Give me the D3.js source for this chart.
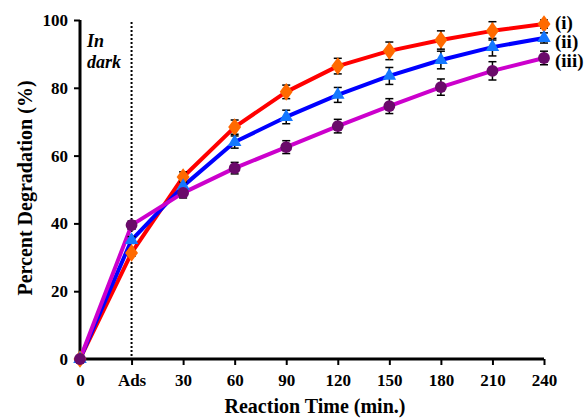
<!DOCTYPE html>
<html>
<head>
<meta charset="utf-8">
<script src="https://cdn.jsdelivr.net/npm/d3@7"></script>
<style>
  body { margin: 0; background: #fff; }
</style>
</head>
<body>
<svg id="chart" width="585" height="418"></svg>
<script>
// categories on the x axis
var categories = ["0", "Ads", "30", "60", "90", "120", "150", "180", "210", "240"];
var yTicks = [0, 20, 40, 60, 80, 100];

// series values (percent degradation) and their error bars
var seriesI   = [0, 31.3, 53.7, 68.4, 78.8, 86.4, 90.9, 94.1, 96.8, 98.8];
var errI      = [0, 1.0, 1.5, 2.1, 2.0, 2.3, 2.6, 2.7, 2.7, 1.2];
var seriesII  = [0, 35.1, 51.0, 64.0, 71.4, 77.9, 83.5, 88.2, 92.0, 94.7];
var errII     = [0, 1.0, 1.5, 1.8, 2.0, 2.2, 2.5, 2.6, 2.6, 1.5];
var seriesIII = [0, 39.5, 49.0, 56.3, 62.5, 68.7, 74.6, 80.2, 85.0, 88.8];
var errIII    = [0, 1.2, 1.5, 1.7, 1.9, 2.0, 2.2, 2.4, 2.7, 2.0];
var labels    = ["(i)", "(ii)", "(iii)"];

var series = [
  { name: labels[0], values: seriesI, err: errI, line: "#ff0000", mark: "#ff6a00", shape: d3.symbolDiamond, size: 110 },
  { name: labels[1], values: seriesII, err: errII, line: "#0000ff", mark: "#1478ff", shape: d3.symbolTriangle, size: 80 },
  { name: labels[2], values: seriesIII, err: errIII, line: "#cc00cc", mark: "#6a0a6a", shape: d3.symbolCircle, size: 110 }
];

const FONT = "Liberation Serif";
const svg = d3.select("#chart");

var x = d3.scalePoint().domain(categories).range([80, 544]);
var y = d3.scaleLinear().domain([0, 100]).range([359, 20]);

// y axis
var yAxis = svg.append("g")
    .attr("transform", "translate(80,0)")
    .call(d3.axisLeft(y).tickValues(yTicks).tickSize(6).tickPadding(6));
yAxis.select(".domain").attr("stroke-width", 3).attr("d", "M0,20V359");
yAxis.selectAll(".tick line").attr("stroke-width", 2);
yAxis.selectAll(".tick text").attr("fill", "#000").attr("font-size", 17);

// x axis
var xAxis = svg.append("g")
    .attr("transform", "translate(0,359)")
    .call(d3.axisBottom(x).tickSize(6).tickPadding(9));
xAxis.select(".domain").attr("stroke-width", 3).attr("d", "M80,0H544");
xAxis.selectAll(".tick line").attr("stroke-width", 2);
xAxis.selectAll(".tick text").attr("fill", "#000").attr("font-size", 17);

// dark / light boundary
svg.append("line")
    .attr("x1", x("Ads")).attr("x2", x("Ads"))
    .attr("y1", 22).attr("y2", 359)
    .attr("stroke", "#000").attr("stroke-width", 2)
    .attr("stroke-dasharray", "2,2");

svg.append("text").attr("x", 87).attr("y", 47)
    .attr("font-size", 18).attr("font-style", "italic").text("In");
svg.append("text").attr("x", 87).attr("y", 68)
    .attr("font-size", 18).attr("font-style", "italic").text("dark");

// lines
var line = d3.line().x((d, i) => x(categories[i])).y(d => y(d));
series.forEach(s => {
  svg.append("path")
      .datum(s.values)
      .attr("fill", "none")
      .attr("stroke", s.line)
      .attr("stroke-width", 4)
      .attr("stroke-linejoin", "round")
      .attr("d", line);
});

// error bars (under the markers)
series.forEach(s => {
  var g = svg.append("g").attr("stroke", "#000").attr("stroke-width", 1.5);
  s.values.forEach((v, i) => {
    var e = s.err[i];
    if (!e) return;
    var cx = x(categories[i]);
    g.append("line").attr("x1", cx).attr("x2", cx).attr("y1", y(v + e)).attr("y2", y(v - e));
    g.append("line").attr("x1", cx - 4).attr("x2", cx + 4).attr("y1", y(v + e)).attr("y2", y(v + e));
    g.append("line").attr("x1", cx - 4).attr("x2", cx + 4).attr("y1", y(v - e)).attr("y2", y(v - e));
  });
});

// markers
series.forEach(s => {
  svg.append("g").selectAll("path")
    .data(s.values)
    .enter()
    .append("path")
    .attr("transform", (d, i) => `translate(${x(categories[i])},${y(d)})` + (s.shape === d3.symbolDiamond ? " scale(1.15,0.9)" : ""))
    .attr("d", d3.symbol().type(s.shape).size(s.size))
    .attr("fill", s.mark);
});

// series labels
var labelY = [29, 48, 67];
series.forEach((s, i) => {
  svg.append("text").attr("x", 555).attr("y", labelY[i])
      .attr("font-size", 19).text(s.name);
});

// axis titles
svg.append("text")
    .attr("x", 315).attr("y", 413)
    .attr("text-anchor", "middle")
    .attr("font-size", 20)
    .text("Reaction Time (min.)");

svg.append("text")
    .attr("transform", "translate(32,188) rotate(-90)")
    .attr("text-anchor", "middle")
    .attr("font-size", 20)
    .text("Percent Degradation (%)");

// serif bold for every text
svg.selectAll("text")
    .attr("font-family", FONT)
    .attr("font-weight", "bold");
</script>
</body>
</html>
